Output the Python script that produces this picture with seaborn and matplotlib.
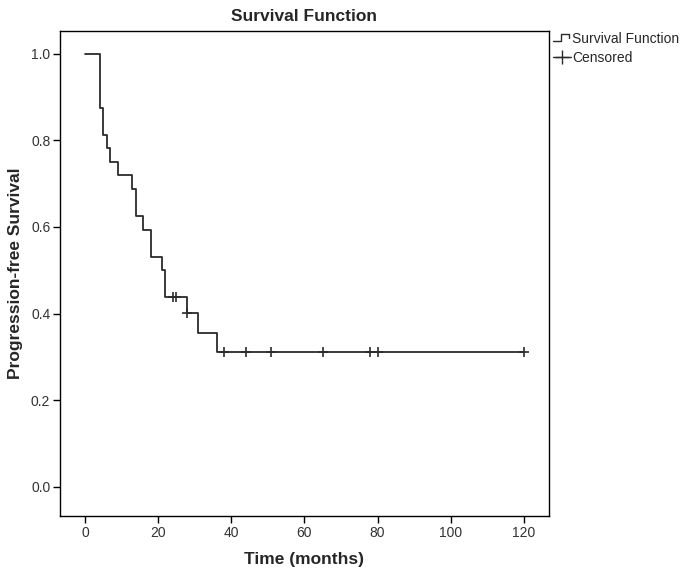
import numpy as np
import pandas as pd
import seaborn as sns
import matplotlib.pyplot as plt
from matplotlib.lines import Line2D
from matplotlib.legend_handler import HandlerBase

# Kaplan-Meier steps
event_times = [0, 4, 5, 6, 7, 9, 13, 14, 16, 18, 21, 22, 28, 31, 36, 120]
survival = [1.0, 0.875, 0.8125, 0.78125, 0.75, 0.71875, 0.6875, 0.625,
            0.59375, 0.53125, 0.5, 0.4375, 0.401, 0.356, 0.312, 0.312]
censored_times = [24, 25, 28, 38, 44, 51, 65, 78, 80, 120]

x_ticks = [0, 20, 40, 60, 80, 100, 120]
y_ticks = [0.0, 0.2, 0.4, 0.6, 0.8, 1.0]

line_col = "#2b2b2b"

sns.set_style("white")
plt.rcParams["font.family"] = ["Liberation Sans", "DejaVu Sans"]

steps = pd.DataFrame({"time": event_times, "surv": survival})
# survival level at each censored time (step lookup)
idx = np.searchsorted(event_times, censored_times, side="right") - 1
cens = pd.DataFrame({"time": censored_times, "surv": np.array(survival)[idx]})

fig = plt.figure(figsize=(6.85, 5.71), dpi=100)
ax = fig.add_axes([0.0876, 0.0963, 0.7135, 0.8494])

sns.lineplot(data=steps, x="time", y="surv", drawstyle="steps-post",
             color=line_col, linewidth=1.3, ax=ax, estimator=None)
sns.scatterplot(data=cens, x="time", y="surv", marker="+", s=55,
                color=line_col, linewidth=1.2, ax=ax, zorder=3)

ax.set_xlim(-6.8, 126.8)
ax.set_ylim(-0.067, 1.052)
ax.set_xticks(x_ticks)
ax.set_yticks(y_ticks)
ax.set_yticklabels([f"{v:.1f}" for v in y_ticks])
ax.tick_params(axis="both", direction="out", length=5, width=1, colors="black",
               labelsize=10, labelcolor="#333333", bottom=True, left=True, pad=2)
for sp in ax.spines.values():
    sp.set_color("black")
    sp.set_linewidth(1.0)

ax.set_title("Survival Function", fontsize=12.5, fontweight="bold", pad=7)
ax.set_xlabel("Time (months)", fontsize=12.5, fontweight="bold", labelpad=9)
ax.set_ylabel("Progression-free Survival", fontsize=12.5, fontweight="bold", labelpad=6)


# little step symbol for the legend, like the SPSS one
class StepHandler(HandlerBase):
    def create_artists(self, legend, orig, xd, yd, w, h, fontsize, trans):
        xs = [xd, xd + w * 0.45, xd + w * 0.45, xd + w * 0.9, xd + w * 0.9]
        ys = [yd + h * 0.2, yd + h * 0.2, yd + h * 0.9, yd + h * 0.9, yd + h * 0.5]
        ln = Line2D(xs, ys, color=line_col, linewidth=1.0, transform=trans)
        return [ln]


h_surv = Line2D([], [], color=line_col)
h_cens = Line2D([], [], color=line_col, marker="+", markersize=10,
                markeredgewidth=1.0, linewidth=1.0)
ax.legend([h_surv, h_cens], ["Survival Function", "Censored"],
          handler_map={h_surv: StepHandler()},
          loc="upper left", bbox_to_anchor=(1.0, 1.007), frameon=False,
          fontsize=10, handlelength=1.3, handletextpad=0.1,
          borderaxespad=0.1, borderpad=0.2, labelspacing=0.35)

fig.savefig("out.png", dpi=100)
